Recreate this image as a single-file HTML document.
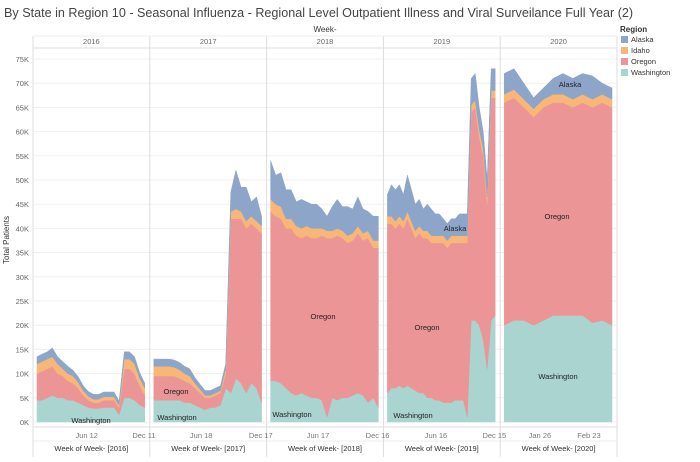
<!DOCTYPE html>
<html><head><meta charset="utf-8"><style>
body{margin:0;background:#fff;font-family:"Liberation Sans",sans-serif;}
svg text{font-family:"Liberation Sans",sans-serif;}
</style></head><body>
<svg id="c" width="700" height="457" xmlns="http://www.w3.org/2000/svg">
<text x="4" y="17" font-size="12.6" fill="#444">By State in Region 10 - Seasonal Influenza - Regional Level Outpatient Illness and Viral Surveilance Full Year (2)</text>
<g id="grid"></g>
<g id="areas"></g>
<g id="frame"></g>
<text x="9" y="240" font-size="8" fill="#333" transform="rotate(-90 9 240)" text-anchor="middle">Total Patients</text>
<text x="325" y="32" font-size="8" fill="#333" text-anchor="middle">Week-</text>
<g>
<text x="620" y="32" font-size="8" font-weight="bold" fill="#333">Region</text>
<rect x="621" y="36" width="7" height="7" fill="#8ca5c9"/><text x="631" y="42" font-size="7.5" fill="#333">Alaska</text>
<rect x="621" y="47" width="7" height="7" fill="#f8b777"/><text x="631" y="53" font-size="7.5" fill="#333">Idaho</text>
<rect x="621" y="58" width="7" height="7" fill="#eb9596"/><text x="631" y="64" font-size="7.5" fill="#333">Oregon</text>
<rect x="621" y="69" width="7" height="7" fill="#a9d4d0"/><text x="631" y="75" font-size="7.5" fill="#333">Washington</text>
</g>
<g id="labels"></g>
</svg>
<script>
const years = ["2016","2017","2018","2019","2020"];
const yTicks = [0,5,10,15,20,25,30,35,40,45,50,55,60,65,70,75];
const washington = [
 [4.5,4.5,5,5.5,5,5,4.5,4.5,4,3.5,3,2.8,2.8,3,3,3,1.5,5,5,4.5,3.5,3],
 [4.5,4.5,4.5,4.5,4.5,4.5,4,4,3.5,3,2.5,3,3,3.5,7,6,9,8,6,8,7,4],
 [8.5,8.5,8,7,6,5.5,6,5.5,5,5,4.5,1,5,4.5,5,5,5.5,6,5.5,4,5,3],
 [6,7,7,7.5,7,7.5,7,6.5,6,6,5,5,4.5,4.5,4,4,4,4.5,4.5,4.5,1,21,21,20,17,11,21,22],
 [20,21,21,20,21,22,22,22,22,20.5,21,20]];
const oregon = [
 [5.5,6,6,6,5,4.5,4,3.5,3,2,1.5,1.2,1.2,1.5,1.5,1.5,1.5,6,6,5.5,4,2.5],
 [5,5,5,5,5,4.5,4.5,4,3.5,3,2.5,2,2.5,2.5,3,36,33,34,34,33,33,35],
 [35,34,34,33,34,33,32,33,33,33,34,37,33,34,33,32,32,33,32,34,31,33],
 [35,34,33,33.5,33,34.5,33,31.5,33,32,33,32,32.5,32.5,33,32,33,32.5,32.5,32.5,36,43,44,39,38,34,46,45],
 [46,46,44,43,44,44,44,43,44,44.5,45,45]];
const idaho = [
 [2,2,2,2,2,1.5,1.5,1.5,1.2,1,0.8,0.7,0.7,0.7,0.7,0.7,0.5,2,2,2,1.5,1.5],
 [2,2,2,2,1.8,1.8,1.5,1.5,1,0.8,0.5,0.5,0.5,0.5,1,1.5,2,1.5,1.5,1.5,1.5,1.5],
 [2.5,2.5,2.5,2,2,2,2,2,2,2,1.5,1.5,1.5,1.5,1.5,1.5,1.5,1.5,1.5,1.5,1.5,1.5],
 [1.5,1.5,1.5,1.5,1.5,1.5,1.5,1.5,1.5,1.5,1.5,1.5,1.5,1.5,1.5,1.5,1.5,1.5,1.5,1.5,1.5,1.5,1.5,1.5,1.5,1.5,1.5,1.5],
 [1.7,1.7,1.7,1.7,1.7,1.7,1.7,1.7,1.7,1.7,1.7,1.7]];
const alaska = [
 [1.5,1.5,1.5,1.8,1.5,1.5,1.5,1.2,1.2,1,1,1,1,1,1,1,0.8,1.5,1.5,1.5,1.2,1],
 [1.5,1.5,1.5,1.5,1.5,1.5,1.5,1.5,1.2,1,1,1,1,1,1,4,8,5,7,3,5,2],
 [8,6,7,6,6,5,6,5,5,5,4,3,5,6,5,6,5,6,5,4,5,5],
 [4.5,6.5,6.5,6.5,5.5,7.5,6.5,5.5,5.5,4.5,5.5,5.5,4.5,4.5,3.5,3.5,3.5,3.5,4.5,4.5,4.5,5.5,5.5,4.5,3.5,3.5,4.5,4.5],
 [4.3,4.3,3.3,2.3,2.3,3.3,4.3,4.3,4.3,4.8,2.3,2.3]];
const xTickLabels = [["Jun 12","Dec 11"],["Jun 18","Dec 17"],["Jun 17","Dec 16"],["Jun 16","Dec 15"],["Jan 26","Feb 23"]];
const xTickPos = [[0.46,0.95],[0.44,0.95],[0.44,0.95],[0.45,0.95],[0.34,0.76]];

const NS="http://www.w3.org/2000/svg";
function mk(tag,attrs,parent){const e=document.createElementNS(NS,tag);for(const k in attrs)e.setAttribute(k,attrs[k]);parent.appendChild(e);return e;}
const plotL=33,plotR=617,y0=422,y75=59,plotTop=48,plotBot=427;
const y=v=>y0-(v/75)*(y0-y75);
const pw=(plotR-plotL)/5;
const panelX=i=>plotL+i*pw;
const dx=i=>[panelX(i)+4,panelX(i)+pw-5];
const grid=document.getElementById('grid');
yTicks.forEach(t=>{
 const l=mk('line',{x1:plotL,x2:plotR,y1:y(t),y2:y(t),stroke:'#efefef','stroke-width':1},grid);
 
 
 const tx=mk('text',{x:29,y:y(t)+3,'font-size':7.5,fill:'#666','text-anchor':'end'},grid);
 tx.textContent=t+'K';
 
 
});
const areas=document.getElementById('areas');
const series=[["washington",washington,"#a9d4d0"],["oregon",oregon,"#eb9596"],["idaho",idaho,"#f8b777"],["alaska",alaska,"#8ca5c9"]];
for(let p=0;p<5;p++){
 const n=washington[p].length;const [a,b]=dx(p);
 const xs=washington[p].map((_,i)=>a+(b-a)*i/(n-1));
 let base=new Array(n).fill(0);
 series.forEach(([nm,arr,col])=>{
  const top=base.map((v,i)=>v+arr[p][i]);
  let d='M'+xs.map((x,i)=>x.toFixed(1)+','+y(top[i]).toFixed(1)).join('L');
  for(let i=n-1;i>=0;i--)d+='L'+xs[i].toFixed(1)+','+y(base[i]).toFixed(1);
  const path=mk('path',{d:d+'Z',fill:col,stroke:col,'stroke-width':0.5},areas);
  
  
  base=top;
 });
}
const frame=document.getElementById('frame');
mk('line',{x1:plotL,x2:plotR,y1:plotTop,y2:plotTop,stroke:'#ddd'},frame);
mk('line',{x1:plotL,x2:plotR,y1:plotBot,y2:plotBot,stroke:'#ddd'},frame);
mk('line',{x1:plotL,x2:plotR,y1:441,y2:441,stroke:'#eee'},frame);
for(let p=0;p<=5;p++){mk('line',{x1:panelX(p),x2:panelX(p),y1:36,y2:457,stroke:'#ddd'},frame);}
mk('line',{x1:plotL,x2:plotR,y1:36,y2:36,stroke:'#eee'},frame);
for(let p=0;p<5;p++){
 const yt=mk('text',{x:panelX(p)+pw/2,y:44,'font-size':7.5,fill:'#666','text-anchor':'middle'},frame);
 yt.textContent=years[p];
 
 
 xTickLabels[p].forEach((lb,i)=>{
  const t=mk('text',{x:panelX(p)+pw*xTickPos[p][i],y:438,'font-size':7.5,fill:'#777','text-anchor':'middle'},frame);
  t.textContent=lb;
  
  
 });
 const at=mk('text',{x:panelX(p)+pw/2,y:451,'font-size':7.5,fill:'#333','text-anchor':'middle'},frame);
 at.textContent='Week of Week- ['+years[p]+']';
 
 
}
const labels=document.getElementById('labels');
[["Washington",91,423],["Oregon",176,394],["Washington",177,420],["Washington",292,417],["Oregon",323,319],["Oregon",427,330],["Alaska",455,231],["Washington",413,418],["Oregon",557,219],["Washington",558,379],["Alaska",570,87]].forEach(([t,x,yy])=>{
 const e=mk('text',{x:x,y:yy,'font-size':7.5,fill:'#222','text-anchor':'middle'},labels);
 e.textContent=t;
 
 
});
</script>
</body></html>
